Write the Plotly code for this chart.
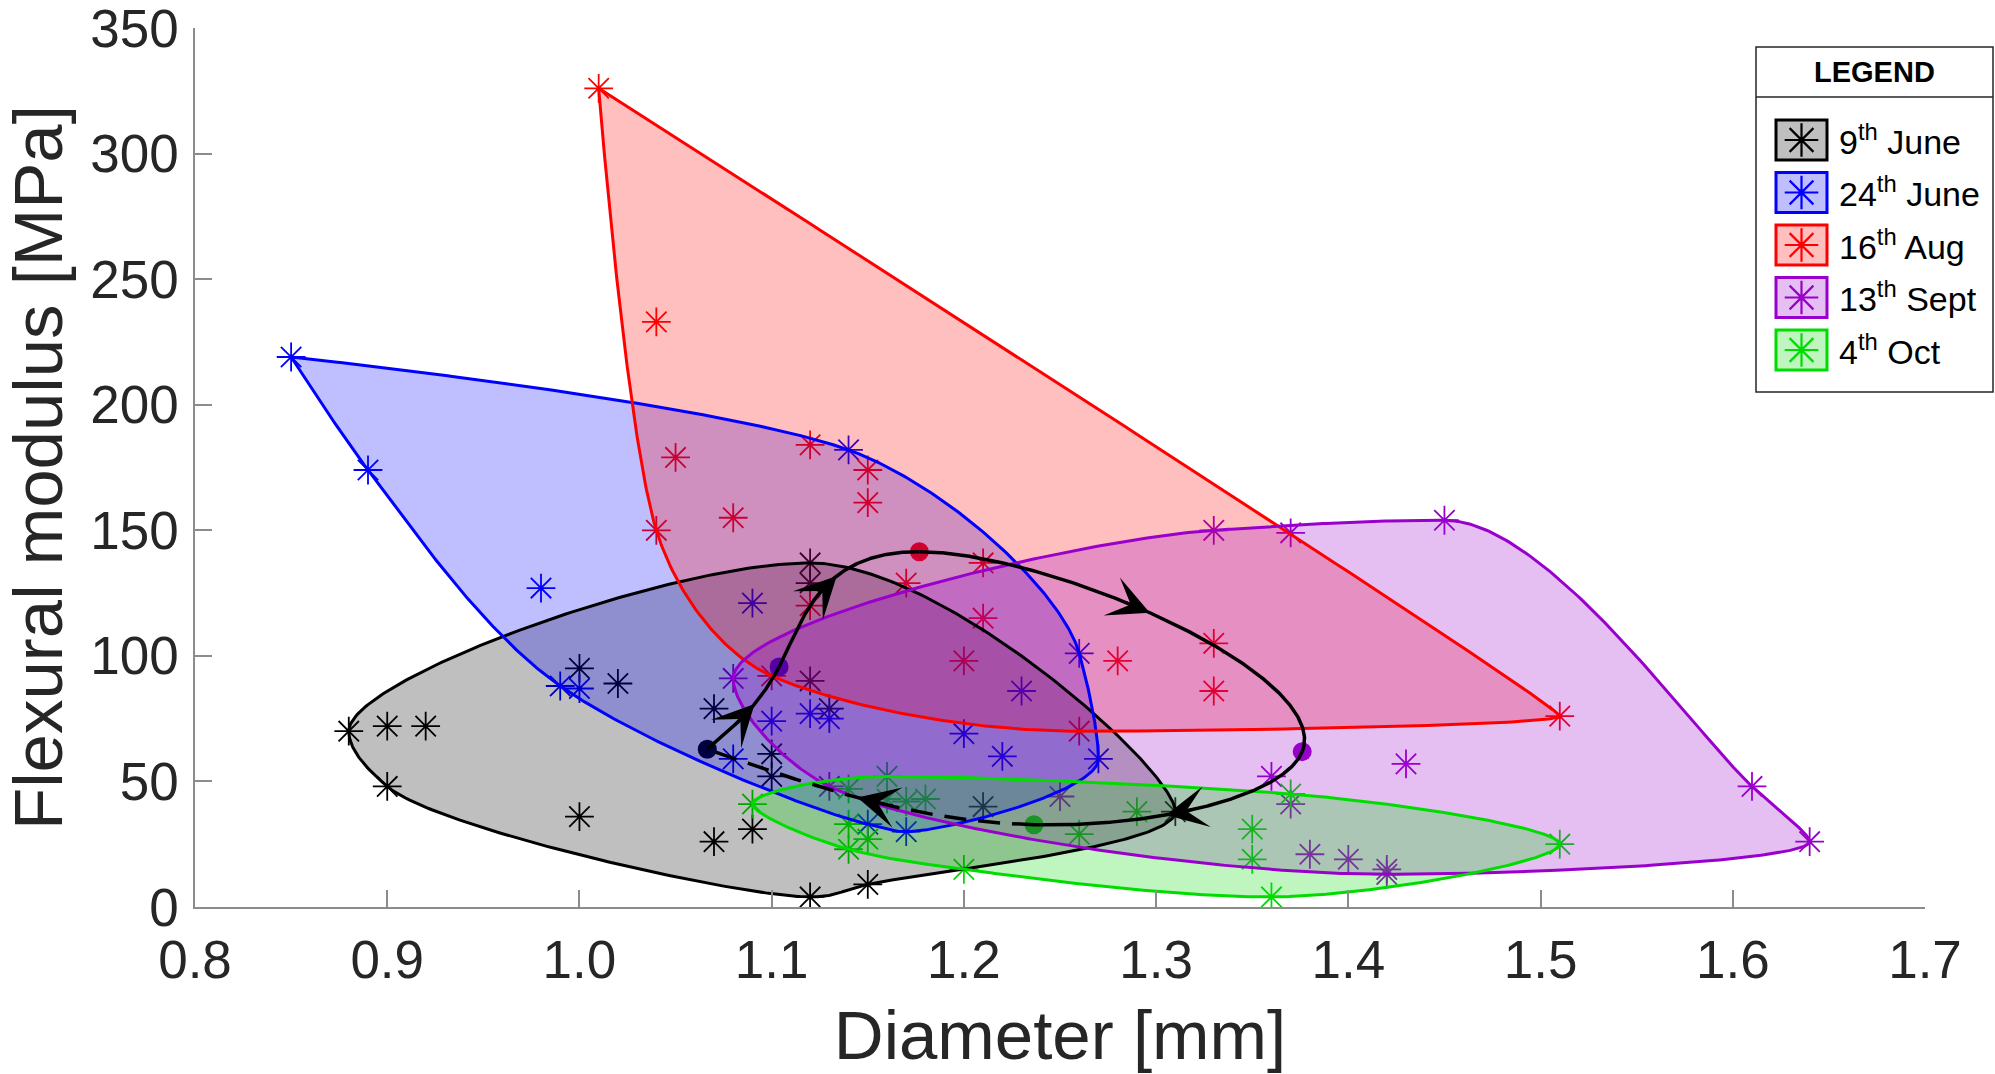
import numpy as np
import plotly.graph_objects as go

# ---------------------------------------------------------------------------
# Measurements: stem diameter [mm] and flexural modulus [MPa] per sampling date
# ---------------------------------------------------------------------------
series_names = ["9<sup>th</sup> June", "24<sup>th</sup> June", "16<sup>th</sup> Aug",
                "13<sup>th</sup> Sept", "4<sup>th</sup> Oct"]

jun09_diam = [0.88, 0.90, 0.92, 0.90, 1.00, 1.02, 1.00, 1.07, 1.07, 1.09, 1.10, 1.10,
              1.12, 1.12, 1.12, 1.13, 1.12, 1.15, 1.21, 1.31]
jun09_mod = [70, 72, 72, 48, 95, 89, 36, 79, 26, 31, 61, 52,
             137, 129, 90, 79, 4, 9, 40, 38]

jun24_diam = [0.85, 0.89, 0.98, 0.99, 1.00, 1.08, 1.09, 1.10, 1.12, 1.13, 1.14, 1.15,
              1.17, 1.20, 1.22, 1.23, 1.26, 1.27]
jun24_mod = [219, 174, 127, 88, 87, 59, 121, 74, 77, 75, 182, 33,
             30, 69, 60, 86, 101, 59]

aug16_diam = [1.01, 1.04, 1.05, 1.04, 1.08, 1.12, 1.15, 1.15, 1.17, 1.21, 1.21, 1.12,
              1.10, 1.20, 1.28, 1.33, 1.33, 1.26, 1.51]
aug16_mod = [326, 233, 179, 150, 155, 184, 174, 161, 129, 137, 115, 120,
             92, 98, 98, 105, 86, 70, 76]

sep13_diam = [1.08, 1.13, 1.25, 1.33, 1.37, 1.45, 1.36, 1.37, 1.38, 1.40, 1.42, 1.42,
              1.43, 1.61, 1.64]
sep13_mod = [91, 48, 44, 150, 149, 154, 52, 41, 21, 19, 15, 13, 57, 48, 26]

oct04_diam = [1.09, 1.14, 1.16, 1.16, 1.17, 1.18, 1.14, 1.14, 1.15, 1.20, 1.26, 1.29,
              1.35, 1.35, 1.36, 1.37, 1.51]
oct04_mod = [41, 47, 52, 43, 42, 43, 33, 23, 27, 15, 29, 38, 31, 19, 4, 45, 25]

x_tick_vals = [0.8, 0.9, 1.0, 1.1, 1.2, 1.3, 1.4, 1.5, 1.6, 1.7]
y_tick_vals = [0, 50, 100, 150, 200, 250, 300, 350]

diam_sets = [jun09_diam, jun24_diam, aug16_diam, sep13_diam, oct04_diam]
mod_sets = [jun09_mod, jun24_mod, aug16_mod, sep13_mod, oct04_mod]

line_rgb = [(0, 0, 0), (0, 0, 255), (255, 0, 0), (153, 0, 204), (0, 220, 0)]
FILL_ALPHA = 0.25
FONT = "Liberation Sans, Arial, sans-serif"
TEXT_GREY = "rgb(38,38,38)"
AXIS_GREY = "rgb(140,140,140)"

X_RANGE = (0.8, 1.7)
Y_RANGE = (0.0, 350.0)

# plot-area frame in pixels
PL, PR, PT, PB = 195, 1925, 28, 907
px_per_x = (PR - PL) / (X_RANGE[1] - X_RANGE[0])
px_per_y = (PB - PT) / (Y_RANGE[1] - Y_RANGE[0])


def rgb(c):
    return "rgb(%d,%d,%d)" % c


def rgba(c, a):
    return "rgba(%d,%d,%d,%.3f)" % (c[0], c[1], c[2], a)


# ---------------------------------------------------------------------------
# Geometry helpers
# ---------------------------------------------------------------------------
def convex_hull(xs, ys):
    pts = sorted(set(zip(xs, ys)))

    def cross(o, a, b):
        return (a[0] - o[0]) * (b[1] - o[1]) - (a[1] - o[1]) * (b[0] - o[0])

    lower, upper = [], []
    for p in pts:
        while len(lower) >= 2 and cross(lower[-2], lower[-1], p) <= 0:
            lower.pop()
        lower.append(p)
    for p in reversed(pts):
        while len(upper) >= 2 and cross(upper[-2], upper[-1], p) <= 0:
            upper.pop()
        upper.append(p)
    return lower[:-1] + upper[:-1]


def centripetal_knots(px, py):
    d = np.hypot(np.diff(px), np.diff(py))
    return np.concatenate([[0.0], np.cumsum(np.sqrt(d))])


def hermite(t, y, d, tt):
    h = np.diff(t)
    idx = np.clip(np.searchsorted(t, tt, side="right") - 1, 0, len(h) - 1)
    hi = h[idx]
    s = (tt - t[idx]) / hi
    h00 = 2 * s ** 3 - 3 * s ** 2 + 1
    h10 = s ** 3 - 2 * s ** 2 + s
    h01 = -2 * s ** 3 + 3 * s ** 2
    h11 = s ** 3 - s ** 2
    return h00 * y[idx] + h10 * hi * d[idx] + h01 * y[idx + 1] + h11 * hi * d[idx + 1]


def pchip_closed_slopes(t, y):
    """Shape-preserving (Fritsch-Carlson) slopes on a closed loop."""
    n = len(t) - 1
    h = np.diff(t)
    delta = np.diff(y) / h
    d = np.zeros(n)
    for k in range(n):
        hp, hn = h[k - 1], h[k]
        dp, dn = delta[k - 1], delta[k]
        if dp * dn <= 0:
            d[k] = 0.0
        else:
            w1, w2 = 2 * hn + hp, hn + 2 * hp
            d[k] = (w1 + w2) / (w1 / dp + w2 / dn)
    return np.append(d, d[0])


def smooth_envelope(xs, ys, samples=90):
    """Closed shape-preserving curve through the convex-hull vertices,
    built in screen-proportional units with centripetal knots."""
    hull = convex_hull(xs, ys)
    hx = np.array([p[0] for p in hull] + [hull[0][0]], dtype=float)
    hy = np.array([p[1] for p in hull] + [hull[0][1]], dtype=float)
    u = (hx - X_RANGE[0]) * px_per_x
    v = (hy - Y_RANGE[0]) * px_per_y
    t = centripetal_knots(u, v)
    tt = np.linspace(0, t[-1], samples * len(hull) + 1)
    su = hermite(t, u, pchip_closed_slopes(t, u), tt)
    sv = hermite(t, v, pchip_closed_slopes(t, v), tt)
    return su / px_per_x + X_RANGE[0], sv / px_per_y + Y_RANGE[0]


def eval_cubic(t, y, M, tt):
    h = np.diff(t)
    idx = np.clip(np.searchsorted(t, tt, side="right") - 1, 0, len(h) - 1)
    t0, t1, hi = t[idx], t[idx + 1], h[idx]
    a, b = t1 - tt, tt - t0
    return (M[idx] * a ** 3 / (6 * hi) + M[idx + 1] * b ** 3 / (6 * hi)
            + (y[idx] / hi - M[idx] * hi / 6) * a
            + (y[idx + 1] / hi - M[idx + 1] * hi / 6) * b)


def natural_moments(t, y):
    n = len(t) - 1
    h = np.diff(t)
    A = np.zeros((n + 1, n + 1))
    r = np.zeros(n + 1)
    A[0, 0] = 1.0
    A[n, n] = 1.0
    for i in range(1, n):
        A[i, i - 1] = h[i - 1]
        A[i, i] = 2 * (h[i - 1] + h[i])
        A[i, i + 1] = h[i]
        r[i] = 6 * ((y[i + 1] - y[i]) / h[i] - (y[i] - y[i - 1]) / h[i - 1])
    return np.linalg.solve(A, r)


fig = go.Figure()

# --- individual measurements (asterisks) and group means (dots) ---
means_x = [float(np.mean(d)) for d in diam_sets]
means_y = [float(np.mean(m)) for m in mod_sets]

for d, m, c in zip(diam_sets, mod_sets, line_rgb):
    fig.add_trace(go.Scatter(
        x=d, y=m, mode="markers", showlegend=False, hoverinfo="skip",
        marker=dict(symbol="asterisk-open", size=24,
                    line=dict(color=rgb(c), width=1.8), color=rgb(c))))

for mx, my, c in zip(means_x, means_y, line_rgb):
    fig.add_trace(go.Scatter(
        x=[mx], y=[my], mode="markers", showlegend=False, hoverinfo="skip",
        marker=dict(symbol="circle", size=19, color=rgb(c), line=dict(width=0))))

# --- translucent envelopes, then their outlines ---
envelopes = [smooth_envelope(d, m) for d, m in zip(diam_sets, mod_sets)]
for (ex, ey), c in zip(envelopes, line_rgb):
    fig.add_trace(go.Scatter(
        x=ex, y=ey, mode="lines", fill="toself", fillcolor=rgba(c, FILL_ALPHA),
        line=dict(width=0, color=rgba(c, 0)), showlegend=False, hoverinfo="skip"))
for (ex, ey), c in zip(envelopes, line_rgb):
    fig.add_trace(go.Scatter(
        x=ex, y=ey, mode="lines", line=dict(color=rgb(c), width=3),
        showlegend=False, hoverinfo="skip"))

# --- seasonal trajectory through the group means ---
route_x = np.array(means_x + [means_x[0]])
route_y = np.array(means_y + [means_y[0]])
rt = centripetal_knots(route_x, route_y)
Mx = natural_moments(rt, route_x)
My = natural_moments(rt, route_y)
n_seg = len(rt) - 1

for k in range(n_seg):
    tt = np.linspace(rt[k], rt[k + 1], 240)
    sx = eval_cubic(rt, route_x, Mx, tt)
    sy = eval_cubic(rt, route_y, My, tt)
    last = (k == n_seg - 1)
    fig.add_trace(go.Scatter(
        x=sx, y=sy, mode="lines", showlegend=False, hoverinfo="skip",
        line=dict(color="black", width=3.5, dash="22px,12px" if last else "solid")))

    # arrow head halfway along the segment
    sm = np.hypot(np.diff(sx) * px_per_x, np.diff(sy) * px_per_y)
    arc = np.concatenate([[0.0], np.cumsum(sm)])
    mid = arc[-1] * 0.5
    i_head = int(np.searchsorted(arc, mid + 10))
    i_tail = int(np.searchsorted(arc, mid - 20))
    fig.add_annotation(
        x=sx[i_head], y=sy[i_head], ax=sx[i_tail], ay=sy[i_tail],
        xref="x", yref="y", axref="x", ayref="y", text="",
        showarrow=True, arrowhead=3, arrowsize=2.3, arrowwidth=3,
        arrowcolor="black", standoff=0, startstandoff=0)

# ---------------------------------------------------------------------------
# Boxed legend drawn in figure (paper) space
# ---------------------------------------------------------------------------
def pxp(px):
    return (px - PL) / (PR - PL)


def pyp(py):
    return (PB - py) / (PB - PT)


box_l, box_r, box_t, box_b = 1756, 1993, 47, 392
head_line = 97
sw_l, sw_r, sw_h = 1776, 1827, 40
row_c = [140 + 52.5 * k for k in range(5)]

fig.add_shape(type="rect", xref="paper", yref="paper", layer="below",
              x0=pxp(box_l), x1=pxp(box_r), y0=pyp(box_b), y1=pyp(box_t),
              line=dict(color=TEXT_GREY, width=1.5), fillcolor="white")
fig.add_shape(type="line", xref="paper", yref="paper", layer="below",
              x0=pxp(box_l), x1=pxp(box_r), y0=pyp(head_line), y1=pyp(head_line),
              line=dict(color=TEXT_GREY, width=1.5))
fig.add_annotation(xref="paper", yref="paper", x=pxp((box_l + box_r) / 2),
                   y=pyp(72), text="<b>LEGEND</b>", showarrow=False,
                   xanchor="center", yanchor="middle",
                   font=dict(family=FONT, size=29, color="black"))

for name, c, yc in zip(series_names, line_rgb, row_c):
    fig.add_shape(type="rect", xref="paper", yref="paper", layer="below",
                  x0=pxp(sw_l), x1=pxp(sw_r), y0=pyp(yc + sw_h / 2), y1=pyp(yc - sw_h / 2),
                  line=dict(color=rgb(c), width=3), fillcolor=rgba(c, FILL_ALPHA))
    fig.add_annotation(xref="paper", yref="paper", x=pxp(1837), y=pyp(yc - 1),
                       text=name, showarrow=False, xanchor="left", yanchor="middle",
                       font=dict(family=FONT, size=34, color="black"))

fig.add_trace(go.Scatter(
    x=[pxp((sw_l + sw_r) / 2)] * 5, y=[pyp(yc) for yc in row_c],
    xaxis="x2", yaxis="y2", mode="markers", showlegend=False, hoverinfo="skip",
    cliponaxis=False,
    marker=dict(symbol="asterisk-open", size=28, color=[rgb(c) for c in line_rgb],
                line=dict(color=[rgb(c) for c in line_rgb], width=2.2))))

# ---------------------------------------------------------------------------
# Axes and layout
# ---------------------------------------------------------------------------
fig.update_layout(
    width=1995, height=1074, autosize=False,
    margin=dict(l=PL, r=1995 - PR, t=PT, b=1074 - PB, pad=0, autoexpand=False),
    paper_bgcolor="white", plot_bgcolor="white", hovermode=False,
    font=dict(family=FONT, color=TEXT_GREY),
    xaxis=dict(range=[X_RANGE[0], X_RANGE[1] + 1e-6], tickvals=x_tick_vals,
               ticktext=["%.1f" % v for v in x_tick_vals], automargin=False,
               ticks="inside", ticklen=17, tickwidth=1.5, tickcolor=AXIS_GREY,
               showline=True, linecolor=AXIS_GREY, linewidth=1.5, mirror=False,
               showgrid=False, zeroline=False, ticklabelstandoff=6,
               ticklabeloverflow="allow",
               tickfont=dict(family=FONT, size=53, color=TEXT_GREY),
               title=dict(text="Diameter [mm]", standoff=24,
                          font=dict(family=FONT, size=69, color=TEXT_GREY))),
    yaxis=dict(range=[Y_RANGE[0], Y_RANGE[1] + 1e-3], tickvals=y_tick_vals,
               ticktext=[str(v) for v in y_tick_vals], automargin=False,
               ticks="inside", ticklen=17, tickwidth=1.5, tickcolor=AXIS_GREY,
               showline=True, linecolor=AXIS_GREY, linewidth=1.5, mirror=False,
               showgrid=False, zeroline=False, ticklabelstandoff=4,
               ticklabeloverflow="allow",
               tickfont=dict(family=FONT, size=53, color=TEXT_GREY),
               title=dict(text="Flexural modulus [MPa]", standoff=16,
                          font=dict(family=FONT, size=69, color=TEXT_GREY))),
    xaxis2=dict(overlaying="x", anchor="y2", range=[0, 1], visible=False,
                domain=[0, 1], automargin=False),
    yaxis2=dict(overlaying="y", anchor="x2", range=[0, 1], visible=False,
                domain=[0, 1], automargin=False),
)

fig.write_html("out.html")
